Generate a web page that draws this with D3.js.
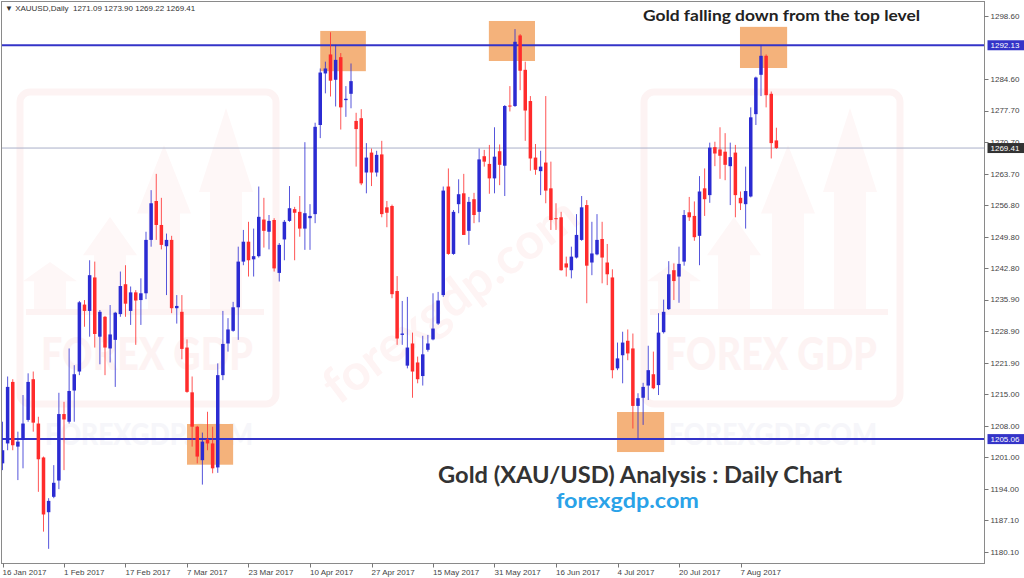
<!DOCTYPE html>
<html><head><meta charset="utf-8">
<script src="https://cdn.jsdelivr.net/npm/d3@7"></script>
<style>html,body{margin:0;padding:0;background:#fff;}svg{display:block;}</style>
</head><body>
<svg id="c" width="1024" height="578"></svg>
<script>
// ---- data ----
const opens = [1199.7,1204.1,1217.7,1203.4,1204.9,1209.3,1218.3,1208.5,1201.0,1188.9,1192.3,1195.9,1210.6,1208.9,1215.8,1220.0,1234.8,1233.4,1240.8,1227.7,1232.1,1225.1,1227.0,1232.7,1239.3,1233.4,1237.5,1235.8,1237.3,1249.1,1257.7,1252.4,1247.7,1249.1,1234.0,1233.2,1225.3,1215.4,1207.8,1200.4,1205.0,1204.1,1198.8,1219.2,1226.2,1229.0,1234.2,1244.3,1248.7,1244.8,1245.5,1253.6,1250.9,1253.5,1241.8,1249.2,1253.3,1255.9,1255.3,1251.6,1253.9,1254.8,1274.5,1285.9,1290.1,1284.5,1289.5,1280.0,1281.4,1275.4,1276.0,1264.0,1268.4,1264.0,1268.0,1256.3,1256.6,1237.8,1228.1,1221.3,1226.2,1222.0,1219.0,1224.8,1227.1,1230.6,1236.9,1260.9,1246.0,1257.0,1259.4,1251.1,1258.1,1255.3,1267.6,1265.9,1262.7,1268.7,1265.5,1278.8,1278.7,1294.3,1286.7,1279.8,1267.3,1264.3,1266.2,1260.5,1253.9,1254.1,1243.9,1242.4,1245.2,1249.1,1256.8,1244.1,1245.9,1249.3,1244.1,1240.8,1220.7,1223.6,1226.8,1225.1,1212.4,1214.2,1216.9,1219.4,1217.0,1228.7,1233.8,1242.4,1241.0,1244.3,1255.2,1254.4,1250.0,1260.5,1259.0,1269.6,1269.1,1268.6,1265.4,1268.4,1258.4,1257.0,1258.7,1276.9,1285.6,1289.8,1281.4,1271.09];
const highs = [1208.9,1218.9,1218.3,1206.7,1214.8,1219.6,1220.0,1210.0,1201.2,1192.0,1199.3,1215.3,1213.3,1225.1,1221.4,1235.6,1235.8,1244.6,1244.3,1233.6,1232.3,1234.7,1233.2,1242.1,1243.5,1238.8,1238.0,1240.6,1250.9,1260.1,1263.7,1258.4,1250.5,1250.0,1236.9,1236.9,1227.1,1218.9,1208.0,1206.5,1211.1,1207.8,1221.8,1233.4,1231.8,1235.4,1247.6,1251.3,1253.1,1251.6,1260.9,1258.4,1254.6,1253.9,1248.4,1253.5,1261.0,1256.4,1258.8,1270.7,1257.0,1275.0,1287.0,1288.5,1295.0,1292.2,1290.4,1283.1,1288.1,1277.2,1278.0,1270.5,1269.3,1268.8,1271.0,1257.7,1256.9,1241.1,1235.6,1236.5,1228.6,1223.3,1227.9,1228.1,1237.3,1237.6,1260.9,1264.9,1255.7,1262.5,1263.7,1258.6,1259.5,1269.3,1269.0,1270.1,1274.0,1270.2,1278.9,1283.1,1295.7,1294.6,1288.5,1280.9,1270.3,1268.8,1280.9,1266.4,1257.2,1255.3,1245.4,1247.6,1254.8,1258.8,1257.9,1253.1,1254.8,1253.1,1248.2,1242.6,1226.4,1228.8,1229.3,1228.4,1215.2,1217.5,1225.7,1224.4,1232.9,1235.9,1244.4,1243.9,1247.6,1255.7,1258.6,1257.6,1263.2,1264.9,1270.6,1270.8,1274.0,1272.7,1270.6,1270.1,1259.8,1265.3,1278.4,1285.2,1292.2,1290.1,1281.9,1273.90];
const lows = [1198.2,1202.6,1202.6,1196.0,1198.6,1208.9,1206.7,1193.4,1184.6,1180.8,1192.0,1194.0,1198.2,1208.5,1208.9,1219.2,1229.9,1227.7,1225.3,1221.6,1219.2,1222.0,1216.6,1232.1,1232.1,1230.3,1225.9,1230.3,1236.0,1247.6,1249.1,1247.0,1236.9,1232.9,1230.6,1222.7,1215.3,1203.4,1199.7,1195.0,1202.6,1197.5,1197.6,1218.1,1224.4,1228.8,1227.0,1243.5,1241.0,1241.0,1245.2,1247.4,1247.0,1242.1,1239.9,1244.6,1253.1,1244.6,1249.8,1246.9,1246.9,1252.8,1271.6,1281.5,1280.8,1278.6,1273.5,1276.3,1278.2,1265.3,1261.2,1259.4,1261.0,1263.1,1254.1,1251.9,1236.2,1225.9,1225.9,1220.7,1214.2,1217.4,1216.9,1224.4,1226.9,1230.3,1236.5,1245.8,1245.8,1255.0,1250.2,1248.0,1252.8,1253.0,1265.3,1259.3,1259.4,1261.2,1258.8,1277.5,1278.5,1282.2,1271.0,1264.4,1263.5,1259.0,1257.2,1251.3,1251.3,1242.3,1241.0,1240.6,1245.0,1248.9,1235.1,1241.3,1245.7,1239.5,1239.1,1218.5,1220.3,1217.4,1222.5,1207.4,1204.9,1208.2,1213.7,1216.1,1214.8,1228.4,1233.6,1235.8,1235.2,1243.4,1253.3,1248.9,1243.5,1254.4,1257.3,1265.4,1262.6,1262.3,1256.8,1254.1,1255.7,1251.6,1258.5,1274.5,1280.9,1278.4,1267.1,1269.22];
const closes = [1202.6,1216.6,1203.7,1204.5,1208.5,1217.7,1208.7,1200.6,1188.4,1191.4,1195.4,1210.6,1209.4,1215.7,1219.4,1235.3,1233.4,1241.3,1228.3,1233.2,1225.3,1228.2,1233.0,1238.9,1235.0,1237.5,1235.7,1237.3,1249.1,1257.2,1252.4,1248.0,1249.1,1234.0,1234.5,1225.0,1215.5,1207.8,1201.2,1204.5,1204.1,1198.6,1219.2,1226.1,1229.3,1234.2,1244.3,1248.7,1244.6,1245.5,1254.2,1251.1,1253.3,1242.8,1248.0,1253.1,1256.1,1255.1,1251.6,1255.0,1254.4,1274.1,1286.1,1287.0,1284.3,1288.9,1278.4,1280.3,1284.2,1273.6,1261.6,1267.3,1264.0,1267.9,1254.8,1255.1,1237.1,1227.3,1228.4,1225.3,1220.0,1218.3,1223.8,1226.2,1229.5,1235.7,1260.0,1246.0,1255.3,1259.2,1250.2,1257.5,1254.6,1266.9,1266.4,1262.7,1267.5,1265.7,1278.7,1278.6,1292.9,1286.5,1277.7,1267.1,1264.6,1265.3,1260.0,1253.5,1253.7,1242.4,1243.0,1245.4,1250.2,1256.3,1243.4,1246.1,1249.1,1245.2,1241.5,1220.3,1222.9,1226.4,1224.0,1212.4,1214.1,1216.6,1220.3,1216.3,1228.6,1233.2,1241.5,1240.0,1243.8,1254.6,1254.1,1249.7,1259.8,1258.1,1269.5,1268.2,1267.7,1265.7,1267.4,1259.0,1257.2,1259.9,1276.2,1285.0,1289.8,1281.1,1270.5,1269.41];
const dateLabels = ["16 Jan 2017","1 Feb 2017","17 Feb 2017","7 Mar 2017","23 Mar 2017","10 Apr 2017","27 Apr 2017","15 May 2017","31 May 2017","16 Jun 2017","4 Jul 2017","20 Jul 2017","7 Aug 2017"];
const dateLabelBars = [0,12,24,36,48,60,72,84,96,108,120,132,144];
const priceTicks = [1298.60,1284.60,1277.70,1270.70,1263.70,1256.80,1249.80,1242.80,1235.90,1228.90,1221.90,1215.00,1208.00,1201.00,1194.00,1187.10,1180.10];
const levelPrices = [1292.13,1205.06];
const lastPrice = 1269.41;
// highlight zones: [first bar, last bar, upper price, lower price]
const zoneBars0 = [36,62,94.9,119.9,143.9];
const zoneBars1 = [45,70.9,103.9,129.1,153.1];
const zoneTop = [1208.4,1295.3,1297.5,1211.05,1296.2];
const zoneBottom = [1199.4,1286.4,1288.65,1202.2,1287.1];
const headerText = "\u25BC XAUUSD,Daily  1271.09 1273.90 1269.22 1269.41";

// ---- drawing ----
const svg = d3.select('#c');
const plotL = 1.5, plotR = 984.5, plotT = 1.5, plotB = 563.5;
const x = d3.scaleLinear().domain([0,144]).range([2.5,740.5]);
const y = d3.scaleLinear().domain([1180.1,1298.6]).range([552,16]);
const candles = opens.map((o,i)=>({i,o,h:highs[i],l:lows[i],c:closes[i]}));
const BLUE = "#2b2bd2", RED = "#ff2b2b";
const AXFONT = "'Liberation Sans', Arial, sans-serif";
const AXSIZE = 8;

svg.append('rect').attr('width',1024).attr('height',578).attr('fill','#ffffff');
svg.append('clipPath').attr('id','clip').append('rect')
  .attr('x',plotL).attr('y',plotT).attr('width',plotR-plotL).attr('height',plotB-plotT);
const plot = svg.append('g').attr('clip-path','url(#clip)');

// faint watermark logos
const wm = plot.append('g');
[0,624].forEach(ox=>{
  const g = wm.append('g').attr('transform',`translate(${ox},0)`);
  g.append('rect').attr('x',20).attr('y',92).attr('width',256).attr('height',312).attr('rx',10)
    .attr('fill','none').attr('stroke','#fdf3f3').attr('stroke-width',7);
  const tips = [[50,262],[110,217],[164,145],[226,108]];
  tips.forEach(([tx,ty])=>{
    const hb = ty + 0.42*(308-ty);
    g.append('path').attr('d',`M${tx},${ty} L${tx+27},${hb} L${tx+16},${hb} L${tx+16},310 L${tx-16},310 L${tx-16},${hb} L${tx-27},${hb} Z`)
      .attr('fill','#fef7f7');
  });
  g.append('rect').attr('x',26).attr('y',309).attr('width',238).attr('height',6).attr('fill','#fdf3f3');
  g.append('text').attr('x',41).attr('y',370).attr('font-family','Lato, sans-serif').attr('font-weight','900')
    .attr('font-size',46).attr('fill','#fdf3f3').attr('textLength',212).attr('lengthAdjust','spacingAndGlyphs').text('FOREX GDP');
  g.append('text').attr('x',45).attr('y',445).attr('font-family','Lato, sans-serif').attr('font-weight','900')
    .attr('font-size',31).attr('fill','#f6f6fa').attr('textLength',208).attr('lengthAdjust','spacingAndGlyphs').text('FOREXGDP.COM');
});
wm.append('text').attr('transform','translate(450,300) rotate(-37)').attr('text-anchor','middle')
  .attr('font-family','Lato, sans-serif').attr('font-weight','700').attr('font-size',50)
  .attr('fill','#fef4f4').attr('dy','0.35em').text('forexgdp.com');

// zones
plot.selectAll('rect.zone').data(zoneBars0).join('rect').attr('class','zone')
  .attr('x',(d,k)=>x(d)).attr('width',(d,k)=>x(zoneBars1[k])-x(d))
  .attr('y',(d,k)=>y(zoneTop[k])).attr('height',(d,k)=>y(zoneBottom[k])-y(zoneTop[k]))
  .attr('fill','#f4b27b');

// last price line
plot.append('line').attr('x1',plotL).attr('x2',plotR).attr('y1',y(lastPrice)).attr('y2',y(lastPrice))
  .attr('stroke','#a9afc8').attr('stroke-width',1);
// level lines
plot.selectAll('line.level').data(levelPrices).join('line').attr('class','level')
  .attr('x1',plotL).attr('x2',plotR).attr('y1',d=>y(d)).attr('y2',d=>y(d))
  .attr('stroke','#3434c8').attr('stroke-width',2);

// candles
const cg = plot.append('g');
cg.selectAll('line.wick').data(candles).join('line').attr('class','wick')
  .attr('x1',d=>x(d.i)).attr('x2',d=>x(d.i)).attr('y1',d=>y(d.h)).attr('y2',d=>y(d.l))
  .attr('stroke',d=>d.c>=d.o?BLUE:RED).attr('stroke-width',1).attr('stroke-opacity',0.8);
cg.selectAll('rect.body').data(candles).join('rect').attr('class','body')
  .attr('x',d=>x(d.i)-1.75).attr('width',3.5)
  .attr('y',d=>y(Math.max(d.o,d.c))).attr('height',d=>Math.max(1,Math.abs(y(d.o)-y(d.c))))
  .attr('fill',d=>d.c>=d.o?BLUE:RED);

// frame
svg.append('rect').attr('x',plotL).attr('y',plotT).attr('width',plotR-plotL).attr('height',plotB-plotT)
  .attr('fill','none').attr('stroke','#8a8a8a').attr('stroke-width',1);

// right price axis
const ay = svg.append('g');
ay.selectAll('line').data(priceTicks).join('line')
  .attr('x1',plotR).attr('x2',plotR+4).attr('y1',d=>Math.round(y(d))+0.5).attr('y2',d=>Math.round(y(d))+0.5)
  .attr('stroke','#777');
ay.selectAll('text').data(priceTicks).join('text')
  .attr('x',plotR+6).attr('y',d=>y(d)).attr('dy','0.36em')
  .attr('font-family',AXFONT).attr('font-size',AXSIZE).attr('fill','#444')
  .text(d=>d.toFixed(2));

// price labels for lines
function priceTag(p, bg){
  const g = svg.append('g');
  g.append('rect').attr('x',plotR+3).attr('y',y(p)-5).attr('width',1024-plotR-3).attr('height',10).attr('fill',bg);
  g.append('text').attr('x',plotR+6).attr('y',y(p)).attr('dy','0.36em')
    .attr('font-family',AXFONT).attr('font-size',AXSIZE).attr('fill','#fff').text(p.toFixed(2));
}
levelPrices.forEach(p=>priceTag(p,'#3434c8'));
priceTag(lastPrice,'#333333');

// bottom date axis
const ax = svg.append('g');
ax.selectAll('line').data(dateLabelBars).join('line')
  .attr('x1',d=>Math.round(x(d))+0.5).attr('x2',d=>Math.round(x(d))+0.5).attr('y1',plotB).attr('y2',plotB+4)
  .attr('stroke','#777');
ax.selectAll('text').data(dateLabelBars).join('text')
  .attr('x',d=>x(d)).attr('y',574.5)
  .attr('font-family',AXFONT).attr('font-size',AXSIZE).attr('fill','#444')
  .text((d,k)=>dateLabels[k]);

// header
svg.append('text').attr('x',5).attr('y',11).attr('font-family',AXFONT)
  .attr('font-size',AXSIZE).attr('fill','#333').style('white-space','pre').text(headerText);

// annotations
svg.append('text').attr('x',643).attr('y',21).attr('font-family','Lato, sans-serif').attr('font-weight','700')
  .attr('font-size',15).attr('fill','#222').attr('textLength',277).attr('lengthAdjust','spacingAndGlyphs')
  .text('Gold falling down from the top level');
svg.append('text').attr('x',438).attr('y',483).attr('font-family','Lato, sans-serif').attr('font-weight','700')
  .attr('font-size',22).attr('fill','#333').attr('textLength',404).attr('lengthAdjust','spacingAndGlyphs')
  .text('Gold (XAU/USD) Analysis : Daily Chart');
svg.append('text').attr('x',556).attr('y',508).attr('font-family','Lato, sans-serif').attr('font-weight','700')
  .attr('font-size',20).attr('fill','#2aa2e8').attr('textLength',143).attr('lengthAdjust','spacingAndGlyphs')
  .text('forexgdp.com');
</script>
</body></html>
